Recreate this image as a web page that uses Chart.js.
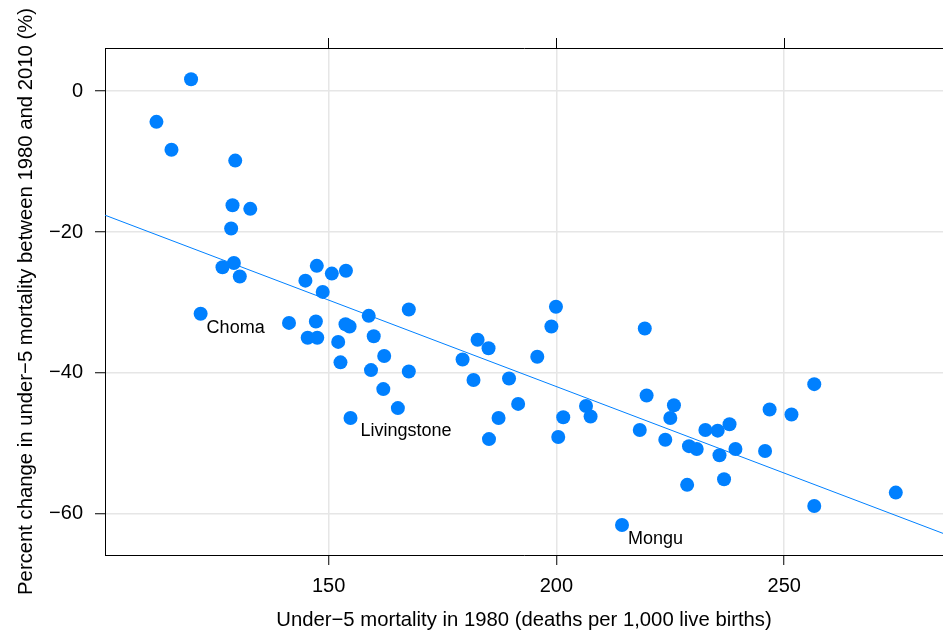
<!DOCTYPE html>
<html>
<head>
<meta charset="utf-8">
<script src="https://cdn.jsdelivr.net/npm/chart.js@4.4.1/dist/chart.umd.min.js"></script>
<style>
  html, body { margin: 0; padding: 0; background: #fff; overflow: hidden; }
  canvas { display: block; }
</style>
</head>
<body>
<canvas id="mortChart" width="943" height="636"></canvas>
<script>
// under-5 mortality in 1980 (deaths per 1,000 live births)
const mort1980 = [
    119.8, 112.2, 115.5, 129.5, 128.9, 132.8, 128.6, 126.7, 129.2, 130.5,
    144.9, 147.4, 150.7, 153.8, 148.7, 158.8, 121.9, 141.3, 147.2, 145.4,
    147.5, 152.1, 153.7, 154.6, 167.6, 159.9, 152.6, 162.2, 159.3, 167.6,
    162.0, 165.2, 154.8, 179.4, 182.7, 185.1, 181.8, 189.6, 187.3, 185.2,
    191.6, 195.8, 198.9, 199.9, 201.5, 200.4, 206.5, 207.5, 219.4, 219.8,
    218.3, 223.9, 225.8, 225.0, 229.1, 230.8, 232.7, 235.4, 238.0, 235.8,
    239.3, 228.7, 236.8, 245.8, 246.8, 251.6, 256.6, 256.6, 274.5, 214.4
];
// percent change between 1980 and 2010
const pctChange = [
    1.7, -4.35, -8.3, -9.85, -16.2, -16.7, -19.5, -25.0, -24.4, -26.3,
    -26.9, -24.8, -25.9, -25.5, -28.5, -31.9, -31.6, -32.9, -32.7, -35.0,
    -35.0, -35.6, -33.1, -33.4, -31.0, -34.8, -38.5, -37.6, -39.6, -39.8,
    -42.3, -45.0, -46.4, -38.1, -35.3, -36.5, -41.0, -40.8, -46.4, -49.4,
    -44.4, -37.7, -33.4, -30.6, -46.3, -49.1, -44.7, -46.2, -33.7, -43.2,
    -48.1, -49.5, -44.6, -46.4, -50.4, -50.8, -48.1, -48.2, -47.3, -51.7,
    -50.8, -55.9, -55.1, -51.1, -45.2, -45.9, -41.6, -58.9, -57.0, -61.6
];
// fitted regression line, read at the panel edges
const fitX = [100.9, 284.9];
const fitY = [-17.6, -62.8];

// named districts (index into the arrays above)
const labelNames = ['Choma', 'Livingstone', 'Mongu'];
const labelIdx = [16, 32, 69];

const xTicks = [150, 200, 250];
const yTicks = [0, -20, -40, -60];

const blue = '#0080ff';
const fontFamily = '"Liberation Sans", Arial, Helvetica, sans-serif';

function minusFmt(v) {
    return v < 0 ? '\u2212' + Math.abs(v) : String(v);
}

const labelPlugin = {
    id: 'districtLabels',
    afterDatasetsDraw(chart, args, opts) {
        const c = chart.ctx;
        const xs = chart.scales.x;
        const ys = chart.scales.y;
        c.save();
        c.font = '18px ' + fontFamily;
        c.fillStyle = '#000';
        c.textAlign = 'left';
        c.textBaseline = 'alphabetic';
        labelIdx.forEach(function(i, k) {
            const px = xs.getPixelForValue(mort1980[i]);
            const py = ys.getPixelForValue(pctChange[i]);
            const off = opts.offsets[k];
            c.fillText(labelNames[k], px + off[0], py + off[1]);
        });
        c.restore();
    }
};

const gridCol = '#e6e6e6';
const titleFont = { family: fontFamily, size: 20.3 };

new Chart(document.getElementById('mortChart').getContext('2d'), {
    type: 'scatter',
    data: {
        datasets: [
            {
                data: mort1980.map((x, i) => ({ x: x, y: pctChange[i] })),
                backgroundColor: blue,
                borderWidth: 0,
                pointRadius: 7,
                pointHoverRadius: 7
            },
            {
                type: 'line',
                data: fitX.map((x, i) => ({ x: x, y: fitY[i] })),
                borderColor: blue,
                borderWidth: 1,
                pointRadius: 0,
                fill: false
            }
        ]
    },
    options: {
        responsive: false,
        animation: false,
        devicePixelRatio: 1,
        layout: { padding: 0, autoPadding: false },
        plugins: {
            legend: { display: false },
            tooltip: { enabled: false },
            districtLabels: { offsets: [[6, 19], [10, 18], [6, 19]] }
        },
        scales: {
            x: {
                type: 'linear',
                position: 'bottom',
                min: 100.91,
                max: 284.86,
                afterBuildTicks: s => { s.ticks = xTicks.map(v => ({ value: v })); },
                afterFit: s => { s.height = 81; },
                grid: { color: gridCol, lineWidth: 1.5, tickColor: '#000', tickWidth: 1, tickLength: 10 },
                border: { display: true, color: '#000', width: 1 },
                ticks: { color: '#000', padding: 9, font: { family: fontFamily, size: 20 } },
                title: {
                    display: true,
                    text: 'Under\u22125 mortality in 1980 (deaths per 1,000 live births)',
                    color: '#000',
                    font: titleFont,
                    padding: { top: 0, bottom: 3 }
                }
            },
            x2: {
                type: 'linear',
                position: 'top',
                min: 100.91,
                max: 284.86,
                afterBuildTicks: s => { s.ticks = xTicks.map(v => ({ value: v })); },
                afterFit: s => { s.height = 48; },
                grid: { drawOnChartArea: false, tickColor: '#000', tickWidth: 1, tickLength: 10 },
                border: { display: true, color: '#000', width: 1 },
                ticks: { display: false }
            },
            y: {
                type: 'linear',
                position: 'left',
                min: -65.86,
                max: 6.14,
                afterBuildTicks: s => { s.ticks = yTicks.map(v => ({ value: v })); },
                afterFit: s => { s.width = 105; },
                grid: { color: gridCol, lineWidth: 1.5, tickColor: '#000', tickWidth: 1, tickLength: 10 },
                border: { display: true, color: '#000', width: 1 },
                ticks: {
                    color: '#000',
                    padding: 12,
                    font: { family: fontFamily, size: 20 },
                    callback: v => minusFmt(v)
                },
                title: {
                    display: true,
                    text: 'Percent change in under\u22125 mortality between 1980 and 2010 (%)',
                    color: '#000',
                    font: titleFont,
                    padding: { top: 14, bottom: 0 }
                }
            }
        }
    },
    plugins: [labelPlugin]
});
</script>
</body>
</html>
